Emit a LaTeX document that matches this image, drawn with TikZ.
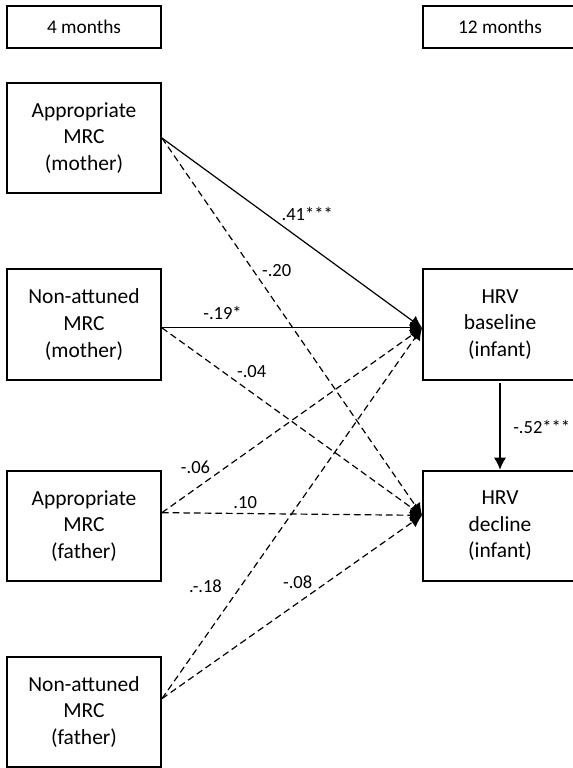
\documentclass[tikz,border=0pt]{standalone}
\usepackage{fontspec}
\setmainfont{Carlito}
\usetikzlibrary{arrows.meta}
\begin{document}
\begin{tikzpicture}[x=0.75pt,y=-0.75pt,
        box/.style={draw, line width=1.4pt, minimum width=115.5pt, minimum height=83pt, align=center, inner sep=0pt, font=\fontsize{16.1}{19.9}\selectfont},
        head/.style={box, minimum height=31.5pt, font=\fontsize{14.5}{17}\selectfont},
        coef/.style={inner sep=1.5pt, font=\fontsize{13.9}{16}\selectfont},
        effect/.style={line width=0.9pt, -{Latex[length=9pt,width=9pt]}},
        nonsig/.style={effect, dash pattern=on 5pt off 3pt}]
    \useasboundingbox (0,0) rectangle (572,768);
    % time points
    \node[head] (m4) at (84,27) {4 months};
    \node[head] (m12) at (500,27) {12 months};
    % predictors
    \node[box] (am) at (84,138) {Appropriate\\MRC\\(mother)};
    \node[box] (nm) at (84,324.5) {Non-attuned\\MRC\\(mother)};
    \node[box] (af) at (84,526) {Appropriate\\MRC\\(father)};
    \node[box] (nf) at (84,712) {Non-attuned\\MRC\\(father)};
    % outcomes
    \node[box] (hb) at (500,324.5) {HRV\\baseline\\(infant)};
    \node[box] (hd) at (500,526) {HRV\\decline\\(infant)};
    % paths
    \draw[effect] (am.east) -- node[coef, pos=0.45, anchor=south west] (c1) {.41***} ([yshift=-2.5pt]hb.west);
    \draw[nonsig] (am.east) -- node[coef, pos=0.375, anchor=south west] (c2) {-.20} ([yshift=8pt]hd.west);
    \draw[effect] ([yshift=-2.5pt]nm.east) -- node[coef, pos=0.233, above=4.5pt] (c3) {-.19*} ([yshift=-2.5pt]hb.west);
    \draw[nonsig] ([yshift=-2.5pt]nm.east) -- node[coef, pos=0.279, anchor=south west] (c4) {-.04} ([yshift=8pt]hd.west);
    \draw[nonsig] ([yshift=10pt]af.east) -- node[coef, pos=0.195, anchor=south east] (c5) {-.06} ([yshift=-2.5pt]hb.west);
    \draw[nonsig] ([yshift=10pt]af.east) -- node[coef, pos=0.32, above=1.5pt] (c6) {.10} ([yshift=8pt]hd.west);
    \draw[nonsig] ([yshift=10pt]nf.east) -- node[coef, pos=0.302, anchor=east, xshift=-12pt] (c7) {.-.18} ([yshift=-2.5pt]hb.west);
    \draw[nonsig] ([yshift=10pt]nf.east) -- node[coef, pos=0.588, anchor=south east] (c8) {-.08} ([yshift=8pt]hd.west);
    \draw[effect] ([yshift=-2pt]hb.south) -- node[coef, right=8pt] (c9) {-.52***} (hd.north);
\end{tikzpicture}
\end{document}
